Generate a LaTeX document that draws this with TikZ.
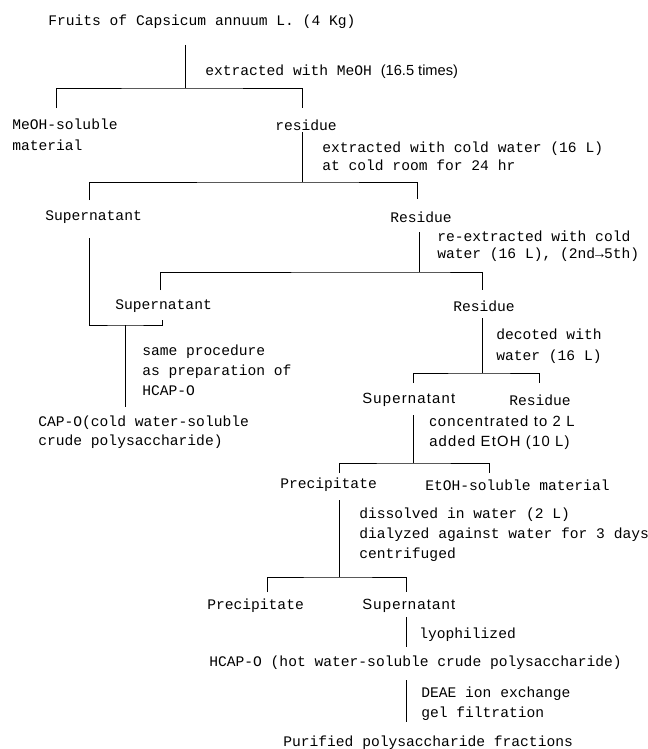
\documentclass[tikz,border=0pt]{standalone}
\usepackage{fontspec}
\newfontfamily\monotxt{Liberation Mono}
\newfontfamily\proptxt{Liberation Sans}
\newfontfamily\wideprop[LetterSpace=8.5]{Liberation Sans}

\tikzset{
  lbl/.style={anchor=west, inner sep=0pt, align=left,
    font=\monotxt\fontsize{10.4}{14.2}\selectfont},
  slbl/.style={lbl, font=\wideprop\fontsize{10.5}{14.2}\selectfont},
  link/.style={line width=0.7pt}
}

\begin{document}
\begin{tikzpicture}[x=0.025cm, y=-0.025cm]
\useasboundingbox (0,0) rectangle (648,749);

% materials and fractions
\node[lbl] (fruit)   at (48,22)   {Fruits of Capsicum annuum L. (4 Kg)};
\node[lbl] (meohsol) at (12,135)  {MeOH-soluble\\[0.7pt]material};
\node[lbl] (res1)    at (275,125) {residue};
\node[lbl] (sup1)    at (45,217)  {Supernatant};
\node[lbl] (res2)    at (390,217) {Residue};
\node[lbl] (sup2)    at (115,306) {Supernatant};
\node[lbl] (res3)    at (453,306) {Residue};
\node[lbl] (capo)    at (38,432)  {CAP-O(cold water-soluble\\[-0.7pt]crude polysaccharide)};
\node[slbl] (sup3)   at (362,400) {Supernatant};
\node[lbl] (res4)    at (509,400) {Residue};
\node[lbl] (prec1)   at (280,485) {Precipitate};
\node[lbl] (etoh)    at (425,485) {EtOH-soluble material};
\node[lbl] (prec2)   at (207,606) {Precipitate};
\node[slbl] (sup4)   at (362,606) {Supernatant};
\node[lbl] (hcap)    at (209,663) {HCAP-O (hot water-soluble crude polysaccharide)};
\node[lbl] (puri)    at (283,743) {Purified polysaccharide fractions};

% treatments
\node[lbl] (tmeoh)  at (205,72)  {extracted with MeOH {\proptxt (16.5 times)}};
\node[lbl] (tcold)  at (322,156) {extracted with cold water (16 L)\\[-1.4pt]at cold room for 24 hr};
\node[lbl] (treext) at (437,246) {re-extracted with cold\\[-2.1pt]water (16 L), (2nd→5th)};
\node[lbl] (tsame)  at (142,370) {same procedure\\as preparation of\\HCAP-O};
\node[lbl] (tdec)   at (496,346) {decoted with\\[0.7pt]water (16 L)};
\node[slbl] (tconc) at (429,433) {concentrated to 2 L\\added EtOH (10 L)};
\node[lbl] (tdiss)  at (359,535) {dissolved in water (2 L)\\dialyzed against water for 3 days\\centrifuged};
\node[lbl] (tlyo)   at (419,635) {lyophilized};
\node[lbl] (tdeae)  at (421,704) {DEAE ion exchange\\gel filtration};

% branch points
\coordinate (s1) at (185,45);  \coordinate (j1) at (185,88);
\coordinate (a1) at (56,108);  \coordinate (b1) at (302,108);
\coordinate (s2) at (302,132); \coordinate (j2) at (302,182);
\coordinate (a2) at (89,200);  \coordinate (b2) at (417,199);
\coordinate (s3) at (419,232); \coordinate (j3) at (419,272);
\coordinate (a3) at (160,290); \coordinate (b3) at (482,290);
\coordinate (t4) at (89,238);  \coordinate (j4) at (125,325);
\coordinate (u4) at (162,320); \coordinate (e4) at (125,407);
\coordinate (s5) at (482,318); \coordinate (j5) at (482,373);
\coordinate (a5) at (413,383); \coordinate (b5) at (539,383);
\coordinate (s6) at (413,415); \coordinate (j6) at (413,463);
\coordinate (a6) at (339,473); \coordinate (b6) at (489,473);
\coordinate (s7) at (339,500); \coordinate (j7) at (339,577);
\coordinate (a7) at (267,592); \coordinate (b7) at (406,592);
\coordinate (s8) at (406,617); \coordinate (e8) at (406,647);
\coordinate (s9) at (406,680); \coordinate (e9) at (406,722);

\draw[link] (s1) -- (j1);  \draw[link] (a1) |- (j1) -| (b1);
\draw[link] (s2) -- (j2);  \draw[link] (a2) |- (j2) -| (b2);
\draw[link] (s3) -- (j3);  \draw[link] (a3) |- (j3) -| (b3);
\draw[link] (t4) |- (j4) -| (u4);  \draw[link] (j4) -- (e4);
\draw[link] (s5) -- (j5);  \draw[link] (a5) |- (j5) -| (b5);
\draw[link] (s6) -- (j6);  \draw[link] (a6) |- (j6) -| (b6);
\draw[link] (s7) -- (j7);  \draw[link] (a7) |- (j7) -| (b7);
\draw[link] (s8) -- (e8);
\draw[link] (s9) -- (e9);
\end{tikzpicture}
\end{document}
